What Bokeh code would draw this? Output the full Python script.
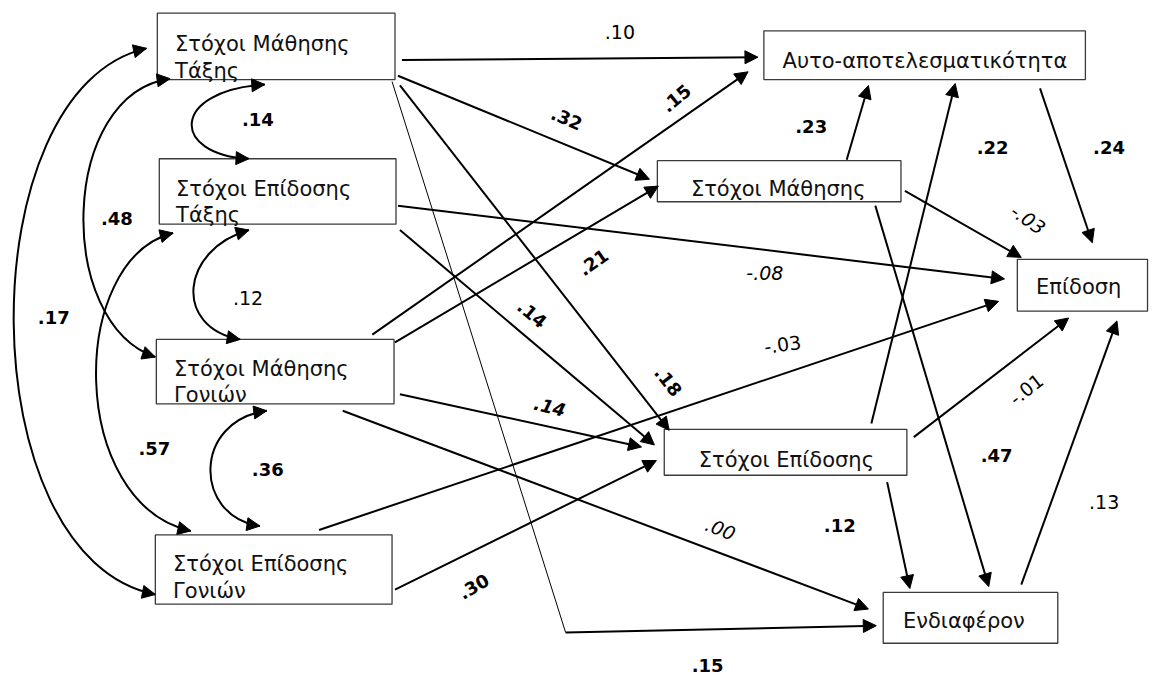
import math
from bokeh.plotting import figure
from bokeh.models import Range1d, ColumnDataSource, Arrow, NormalHead
from bokeh.core.properties import value
from bokeh.embed import file_html
from bokeh.resources import INLINE

FONT = "DejaVu Sans"

# ---- nodes (boxes) ----
node_labels = ["Στόχοι Μάθησης\nΤάξης", "Στόχοι Επίδοσης\nΤάξης",
               "Στόχοι Μάθησης\nΓονιών", "Στόχοι Επίδοσης\nΓονιών",
               "Αυτο-αποτελεσματικότητα", "Στόχοι Μάθησης", "Επίδοση",
               "Στόχοι Επίδοσης", "Ενδιαφέρον"]
box_left = [159, 161, 158, 157, 774, 666, 1031, 673, 895]
box_right = [400, 401, 399, 397, 1100, 913, 1163, 919, 1072]
box_top = [13, 162, 347, 547, 31, 164, 265, 439, 606]
box_bottom = [81, 229, 413, 618, 81, 206, 318, 486, 658]
text_x = [177, 178, 176, 175, 793, 700, 1050, 708, 915]
text_base = [45, 193, 377, 577, 62, 193, 293, 470, 635]
line_gap = 27

# ---- directed paths (straight arrows) ----
path_x0 = [407, 403, 405, 403, 405, 377, 400, 405, 347, 323, 400, 858, 917, 887, 883, 926, 899, 1054, 1035, 573]
path_y0 = [61, 77, 87, 210, 235, 342, 350, 403, 420, 542, 603, 163, 195, 210, 433, 447, 493, 90, 598, 647]
path_x1 = [768, 658, 678, 1018, 663, 758, 667, 650, 880, 1012, 665, 880, 1035, 1002, 968, 1083, 922, 1107, 1132, 888]
path_y1 = [58, 183, 440, 285, 455, 73, 190, 457, 623, 308, 471, 87, 263, 600, 85, 325, 602, 248, 328, 640]

# thin leg of the path Στόχοι Μάθησης Τάξης -> Ενδιαφέρον
thin_x = [397, 573]
thin_y = [83, 647]

# ---- correlations (curved, double headed) ----
curve_x0 = [268, 252, 270, 172, 148, 175]
curve_y0 = [86, 235, 420, 80, 49, 238]
curve_cx0 = [172, 182, 195, 60, -33, 68]
curve_cy0 = [92, 255, 430, 95, 90, 265]
curve_cx1 = [172, 175, 195, 55, -33, 68]
curve_cy1 = [158, 335, 528, 330, 570, 515]
curve_x1 = [252, 243, 263, 157, 157, 193]
curve_y1 = [162, 347, 538, 365, 608, 543]

# ---- coefficient labels ----
coef_text = [".10", ".32", ".15", ".14", ".48", ".12", ".17", ".57", ".36",
             ".21", ".14", ".18", ".14", ".30", ".00", ".15", "-.08", "-.03",
             ".23", ".22", ".24", "-.03", "-.01", ".47", ".12", ".13"]
coef_x = [628, 574, 685, 261, 118, 251, 54, 156, 271,
          601, 539, 677, 557, 480, 730, 717, 775, 793,
          822, 1006, 1124, 1042, 1040, 1010, 851, 1119]
coef_y = [32, 121, 100, 122, 223, 305, 325, 459, 480,
          268, 321, 390, 416, 600, 541, 681, 279, 352,
          129, 150, 150, 224, 398, 466, 537, 513]
coef_angle = [0, -23, 40, 0, 0, 0, 0, 0, 0,
              35, -40, -52, -14, 30, -22, 0, 0, 8,
              0, 0, 0, -35, 38, 0, 0, 0]
coef_style = ["normal", "bold", "bold", "bold", "bold", "normal", "bold", "bold", "bold",
              "bold", "bold", "bold", "bold italic", "bold", "italic", "bold", "italic", "normal",
              "bold", "bold", "bold", "italic", "normal", "bold", "bold", "normal"]

p = figure(width=1149, height=675, x_range=Range1d(0, 1165), y_range=Range1d(691, 0),
           output_backend="svg", toolbar_location=None, min_border=0)
p.axis.visible = False
p.grid.visible = False
p.outline_line_color = None
p.background_fill_color = "white"
p.border_fill_color = "white"

# straight arrows
arrow_src = ColumnDataSource(dict(x0=path_x0, y0=path_y0, x1=path_x1, y1=path_y1))
p.add_layout(Arrow(end=NormalHead(size=13, fill_color="black", line_color="black", line_width=1),
                   source=arrow_src, x_start="x0", y_start="y0", x_end="x1", y_end="y1",
                   line_color="black", line_width=2))
p.line(thin_x, thin_y, line_color="black", line_width=1)

# curves
p.bezier(x0=curve_x0, y0=curve_y0, x1=curve_x1, y1=curve_y1,
         cx0=curve_cx0, cy0=curve_cy0, cx1=curve_cx1, cy1=curve_cy1,
         line_color="black", line_width=2)

hx0, hy0, hx1, hy1 = [], [], [], []
for i in range(len(curve_x0)):
    for (tx_, ty_, cx, cy) in [(curve_x0[i], curve_y0[i], curve_cx0[i], curve_cy0[i]),
                               (curve_x1[i], curve_y1[i], curve_cx1[i], curve_cy1[i])]:
        dx, dy = tx_ - cx, ty_ - cy
        n = math.hypot(dx, dy)
        hx0.append(tx_ - 3 * dx / n)
        hy0.append(ty_ - 3 * dy / n)
        hx1.append(tx_)
        hy1.append(ty_)
head_src = ColumnDataSource(dict(x0=hx0, y0=hy0, x1=hx1, y1=hy1))
p.add_layout(Arrow(end=NormalHead(size=13, fill_color="black", line_color="black", line_width=1),
                   source=head_src, x_start="x0", y_start="y0", x_end="x1", y_end="y1",
                   line_alpha=0))

# boxes
bx = [(l + r) / 2 for l, r in zip(box_left, box_right)]
by = [(t + b) / 2 for t, b in zip(box_top, box_bottom)]
bw = [r - l for l, r in zip(box_left, box_right)]
bh = [b - t for t, b in zip(box_top, box_bottom)]
p.rect(bx, by, bw, bh, fill_color="white", line_color="#3a3a3a", line_width=1.3)

tx, ty, tt = [], [], []
for i, lab in enumerate(node_labels):
    for j, part in enumerate(lab.split("\n")):
        tx.append(text_x[i])
        ty.append(text_base[i] + j * line_gap)
        tt.append(part)
p.text(tx, ty, text=tt, text_font=value(FONT), text_font_size="21px",
       text_color="#111111", text_baseline="alphabetic", text_align="left")

# coefficients
for style, size in [("normal", "19px"), ("bold", "18px"), ("italic", "19px"), ("bold italic", "18px")]:
    idx = [k for k, s in enumerate(coef_style) if s == style]
    if not idx:
        continue
    p.text([coef_x[k] for k in idx], [coef_y[k] for k in idx],
           text=[coef_text[k] for k in idx], angle=[coef_angle[k] for k in idx],
           angle_units="deg", text_font=value(FONT), text_font_size=size,
           text_font_style=style, text_color="black",
           text_align="center", text_baseline="middle")

open("out.html", "w").write(file_html(p, INLINE))
